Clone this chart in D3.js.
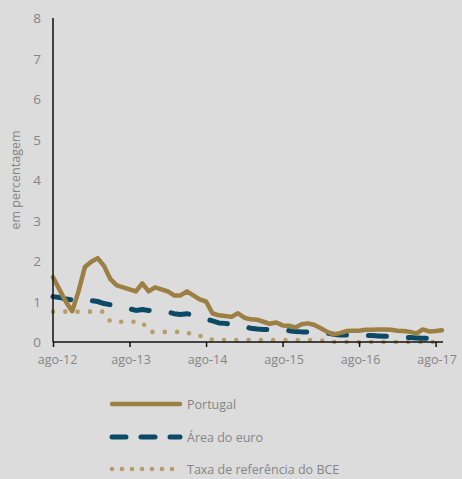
<!DOCTYPE html>
<html lang="pt">
<head>
<meta charset="UTF-8">
<title>Taxas de juro</title>
<style>
  html, body { margin: 0; padding: 0; background: #dcdcdc; }
  text { font-family: "Open Sans", sans-serif; fill: #858585; }
</style>
</head>
<body>
<div id="chart"></div>
<script src="https://cdnjs.cloudflare.com/ajax/libs/d3/7.8.5/d3.min.js"></script>
<script>
// monthly, ago-12 .. set-17
const portugal = [1.6, 1.3, 1.0, 0.76, 1.25, 1.85, 1.98, 2.07, 1.88, 1.55,
  1.4, 1.35, 1.3, 1.25, 1.45, 1.25, 1.35, 1.3, 1.25, 1.15,
  1.15, 1.25, 1.15, 1.05, 1.0, 0.71, 0.66, 0.64, 0.62, 0.71,
  0.6, 0.56, 0.55, 0.5, 0.45, 0.48, 0.41, 0.4, 0.36, 0.44,
  0.46, 0.42, 0.34, 0.25, 0.19, 0.22, 0.27, 0.28, 0.28, 0.3,
  0.3, 0.31, 0.31, 0.3, 0.28, 0.27, 0.25, 0.21, 0.31, 0.26,
  0.27, 0.29];
const euro = [1.12, 1.1, 1.06, 1.04, 1.0, 1.0, 1.02, 1.0, 0.95, 0.92,
  0.88, 0.85, 0.82, 0.78, 0.8, 0.78, 0.77, 0.76, 0.74, 0.7,
  0.68, 0.7, 0.66, 0.6, 0.57, 0.52, 0.47, 0.46, 0.44, 0.43,
  0.38, 0.34, 0.32, 0.31, 0.31, 0.31, 0.3, 0.28, 0.26, 0.25,
  0.25, 0.25, 0.24, 0.22, 0.19, 0.17, 0.17, 0.17, 0.17, 0.16,
  0.16, 0.15, 0.14, 0.14, 0.13, 0.12, 0.11, 0.1, 0.09, 0.1,
  0.12, 0.13];
const bce = [0.75, 0.75, 0.75, 0.75, 0.75, 0.75, 0.75, 0.75, 0.75, 0.5,
  0.5, 0.5, 0.5, 0.5, 0.5, 0.25, 0.25, 0.25, 0.25, 0.25,
  0.25, 0.25, 0.15, 0.15, 0.15, 0.05, 0.05, 0.05, 0.05, 0.05,
  0.05, 0.05, 0.05, 0.05, 0.05, 0.05, 0.05, 0.05, 0.05, 0.05,
  0.05, 0.05, 0.05, 0, 0, 0, 0, 0, 0, 0,
  0, 0, 0, 0, 0, 0, 0, 0, 0, 0,
  0, 0];
const tickMonths = [0, 12, 24, 36, 48, 60];
const tickLabels = ["ago-12", "ago-13", "ago-14", "ago-15", "ago-16", "ago-17"];
const yTicks = [0, 1, 2, 3, 4, 5, 6, 7, 8];
const seriesNames = ["Portugal", "Área do euro", "Taxa de referência do BCE"];

const W = 462, H = 479;
const svg = d3.select("#chart").append("svg")
  .attr("width", W).attr("height", H);

const x = d3.scaleLinear().domain([0, 61]).range([53, 442]);
const y = d3.scaleLinear().domain([0, 8]).range([342, 18]);

const styles = [
  { color: "#9c7f42", width: 4.5, dash: null, cap: "round" },
  { color: "#0b4a66", width: 5, dash: "18,22", cap: "round" },
  { color: "#b89d6a", width: 4.6, dash: "0,12.3", cap: "round" }
];
const data = [portugal, euro, bce];

// y labels
svg.append("g").selectAll("text").data(yTicks).join("text")
  .attr("x", 41).attr("y", d => y(d) + 5)
  .attr("text-anchor", "end")
  .attr("font-size", 13.5)
  .text(d => d);

svg.append("text")
  .attr("transform", "translate(20,180) rotate(-90)")
  .attr("text-anchor", "middle")
  .attr("font-size", 12.5)
  .text("em percentagem");

const line = d3.line().x((d, i) => x(i)).y(d => y(d));

// draw lines, dotted first
[2, 1, 0].forEach(k => {
  svg.append("path")
    .datum(data[k])
    .attr("fill", "none")
    .attr("stroke", styles[k].color)
    .attr("stroke-width", styles[k].width)
    .attr("stroke-linecap", styles[k].cap)
    .attr("stroke-linejoin", "round")
    .attr("stroke-dasharray", styles[k].dash)
    .attr("d", line);
});

// axes
svg.append("line").attr("x1", 53).attr("x2", 53).attr("y1", 18).attr("y2", 342)
  .attr("stroke", "#111").attr("stroke-width", 1.5);

const xAxis = d3.axisBottom(x)
  .tickValues(tickMonths)
  .tickFormat((d, i) => tickLabels[i])
  .tickSize(5)
  .tickSizeOuter(0);
const gx = svg.append("g").attr("transform", "translate(0,342)").call(xAxis);
gx.select(".domain").attr("d", "M53,0H443").attr("stroke", "#111").attr("stroke-width", 1.5);
gx.selectAll(".tick line").attr("stroke", "#111").attr("stroke-width", 1.5);
gx.selectAll(".tick text")
  .attr("font-family", "Open Sans, sans-serif")
  .attr("font-size", 12.5)
  .attr("fill", "#858585")
  .attr("y", 13)
  .attr("dx", (d, i) => i === 0 ? 4 : 1);

// legend
const legY = [404, 437, 469];
seriesNames.forEach((name, k) => {
  svg.append("line")
    .attr("x1", 112).attr("x2", 180)
    .attr("y1", legY[k]).attr("y2", legY[k])
    .attr("stroke", styles[k].color)
    .attr("stroke-width", styles[k].width)
    .attr("stroke-linecap", "round")
    .attr("stroke-dasharray", k === 1 ? "14,15" : (k === 2 ? "0,10" : null));
  svg.append("text")
    .attr("x", 187).attr("y", legY[k] + 5)
    .attr("font-size", 12.5)
    .text(name);
});
</script>
</body>
</html>
